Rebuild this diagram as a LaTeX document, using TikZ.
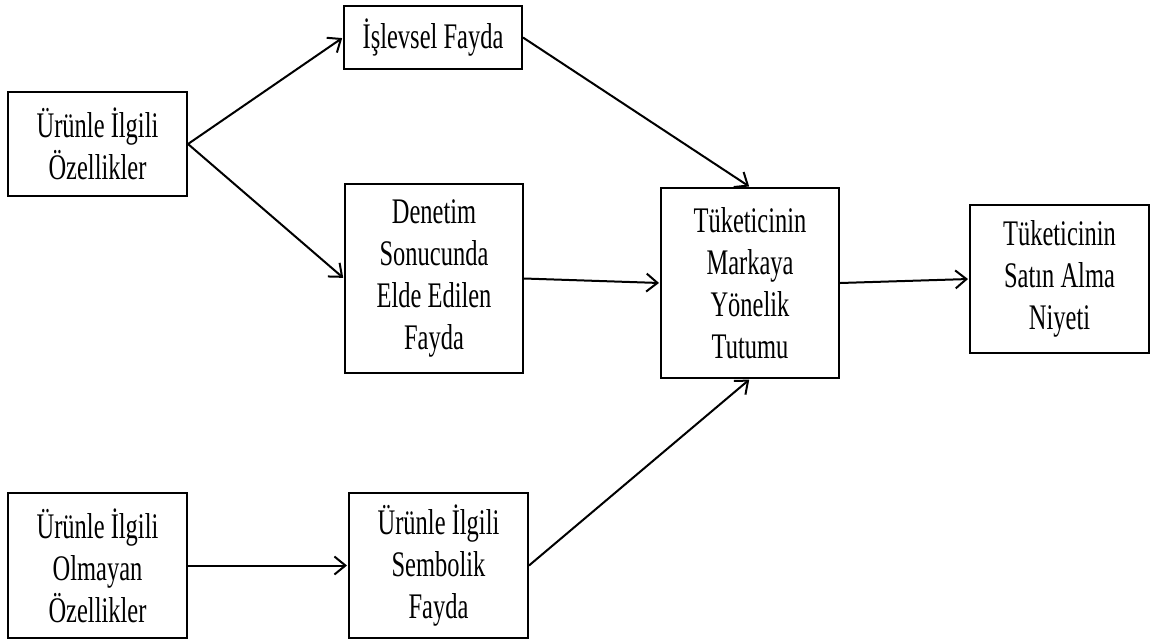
\documentclass[tikz,border=0pt]{standalone}
\usepackage{fontspec}
\setmainfont{Liberation Serif}[FakeStretch=0.68]
\usetikzlibrary{arrows.meta}
\begin{document}
\begin{tikzpicture}[x=1pt,y=-1pt,
  box/.style={draw=black,line width=2pt,inner sep=0pt,align=center,
    font=\fontsize{36}{42}\selectfont},
  link/.style={line width=2pt,-{Straight Barb[length=11pt,width=18pt]},shorten >=1pt}]
\useasboundingbox (0,0) rectangle (1154,641);
\fill[white] (0,0) rectangle (1154,641);

% factor boxes
\node[box,minimum width=179pt,minimum height=104pt] (urun) at (97.5,144) {Ürünle İlgili\\Özellikler};
\node[box,minimum width=179pt,minimum height=145pt] (olmayan) at (97.5,565.5) {Ürünle İlgili\\Olmayan\\Özellikler};

% benefit boxes
\node[box,minimum width=178pt,minimum height=63pt] (islevsel) at (433,37.5) {İşlevsel Fayda};
\node[box,minimum width=178pt,minimum height=189pt] (denetim) at (434,278.5) {Denetim\\Sonucunda\\Elde Edilen\\Fayda};
\node[box,minimum width=179pt,minimum height=145pt] (sembolik) at (438.5,565.5) {Ürünle İlgili\\Sembolik\\Fayda};

% outcome boxes
\node[box,minimum width=178pt,minimum height=190pt] (tutum) at (750,283) {Tüketicinin\\Markaya\\Yönelik\\Tutumu};
\node[box,minimum width=179pt,minimum height=148pt] (niyet) at (1059.5,279) {Tüketicinin\\Satın Alma\\Niyeti};

% connectors
\draw[link] (urun.east) -- (islevsel.west);
\draw[link] (urun.east) -- (denetim.west);
\draw[link] (islevsel.east) -- (tutum.north);
\draw[link] (denetim.east) -- (tutum.west);
\draw[link] (sembolik.east) -- (tutum.south);
\draw[link] (tutum.east) -- (niyet.west);
\draw[link] (olmayan.east) -- (sembolik.west);
\end{tikzpicture}
\end{document}
